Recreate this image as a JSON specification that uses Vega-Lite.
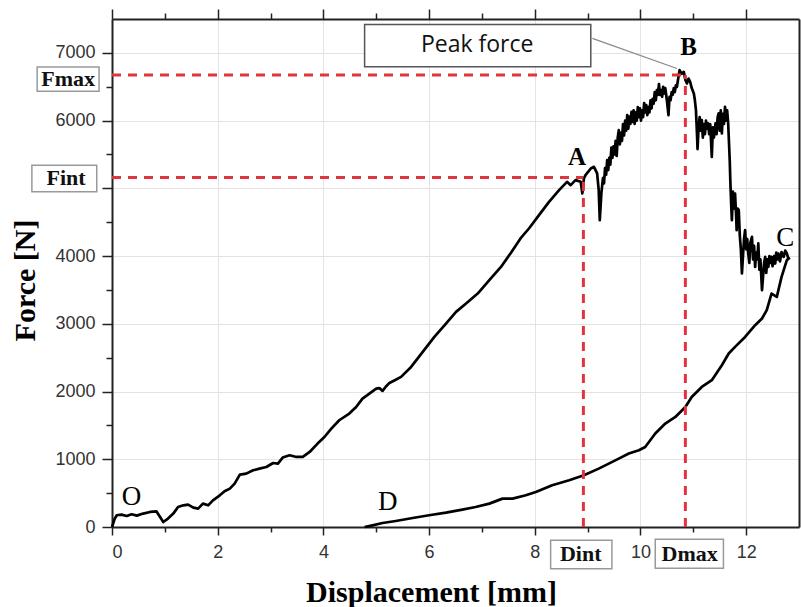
{
 "$schema": "https://vega.github.io/schema/vega-lite/v6.json",
 "width": 687,
 "height": 508,
 "autosize": {"type": "none"},
 "padding": {"left": 112, "top": 19, "right": 2, "bottom": 80},
 "background": "white",
 "config": {
  "view": {"stroke": null},
  "axis": {
   "domainColor": "#222", "domainWidth": 2, "tickColor": "#222", "tickWidth": 1.5,
   "labelFont": "Liberation Sans", "labelFontSize": 18, "labelColor": "#333",
   "gridColor": "#e3e3e3", "gridWidth": 1,
   "titleFont": "Liberation Serif", "titleFontWeight": "bold", "titleFontSize": 30, "titleColor": "#000"
  }
 },
 "datasets": {
  "loading": [
   {"d":0,"f":0},{"d":0.05,"f":120},{"d":0.09,"f":173},{"d":0.18,"f":183},{"d":0.28,"f":163},
   {"d":0.37,"f":188},{"d":0.47,"f":168},{"d":0.59,"f":198},{"d":0.72,"f":222},{"d":0.84,"f":232},
   {"d":0.91,"f":148},{"d":0.97,"f":74},{"d":1.06,"f":124},{"d":1.16,"f":198},{"d":1.25,"f":295},
   {"d":1.35,"f":320},{"d":1.44,"f":330},{"d":1.54,"f":286},{"d":1.63,"f":271},{"d":1.72,"f":345},
   {"d":1.82,"f":320},{"d":1.91,"f":394},{"d":2.04,"f":468},{"d":2.13,"f":527},{"d":2.23,"f":567},
   {"d":2.32,"f":641},{"d":2.42,"f":774},{"d":2.54,"f":788},{"d":2.67,"f":837},{"d":2.79,"f":862},
   {"d":2.92,"f":886},{"d":3.05,"f":945},{"d":3.14,"f":936},{"d":3.23,"f":1025},{"d":3.36,"f":1059},
   {"d":3.49,"f":1034},{"d":3.61,"f":1034},{"d":3.74,"f":1108},{"d":3.89,"f":1232},{"d":4.02,"f":1329},
   {"d":4.15,"f":1453},{"d":4.30,"f":1576},{"d":4.49,"f":1675},{"d":4.62,"f":1772},{"d":4.74,"f":1896},
   {"d":4.87,"f":1970},{"d":5.00,"f":2044},{"d":5.06,"f":2050},{"d":5.12,"f":2010},{"d":5.18,"f":2070},
   {"d":5.25,"f":2127},{"d":5.36,"f":2170},{"d":5.47,"f":2216},{"d":5.66,"f":2363},{"d":5.88,"f":2585},
   {"d":6.10,"f":2806},{"d":6.32,"f":3004},{"d":6.51,"f":3176},{"d":6.70,"f":3300},{"d":6.92,"f":3447},
   {"d":7.14,"f":3644},{"d":7.36,"f":3840},{"d":7.55,"f":4050},{"d":7.73,"f":4260},{"d":7.89,"f":4407},
   {"d":8.08,"f":4604},{"d":8.27,"f":4800},{"d":8.46,"f":4973},{"d":8.61,"f":5096},{"d":8.68,"f":5047},
   {"d":8.77,"f":5121},{"d":8.87,"f":5096},{"d":8.90,"f":4924},{"d":8.93,"f":5146},{"d":8.96,"f":5195},
   {"d":9.06,"f":5293},{"d":9.12,"f":5318},{"d":9.18,"f":5220},{"d":9.21,"f":4973},{"d":9.23,"f":4530},
   {"d":9.26,"f":4924},{"d":9.29,"f":5150},{"d":9.31,"f":5072},{"d":9.33,"f":5300},{"d":9.35,"f":5200},
   {"d":9.37,"f":5416},{"d":9.39,"f":5268},{"d":9.41,"f":5450},{"d":9.43,"f":5350},{"d":9.45,"f":5600},
   {"d":9.47,"f":5450},{"d":9.49,"f":5620},{"d":9.51,"f":5500},{"d":9.53,"f":5700},{"d":9.55,"f":5480},
   {"d":9.57,"f":5750},{"d":9.59,"f":5860},{"d":9.61,"f":5650},{"d":9.63,"f":5820},{"d":9.65,"f":5700},
   {"d":9.67,"f":5950},{"d":9.69,"f":5780},{"d":9.71,"f":6000},{"d":9.73,"f":5850},{"d":9.75,"f":6080},
   {"d":9.77,"f":5880},{"d":9.79,"f":6060},{"d":9.81,"f":5950},{"d":9.83,"f":6130},{"d":9.85,"f":5980},
   {"d":9.87,"f":6150},{"d":9.89,"f":5950},{"d":9.91,"f":6120},{"d":9.93,"f":6000},{"d":9.95,"f":6200},
   {"d":9.97,"f":6050},{"d":9.99,"f":6180},{"d":10.01,"f":6000},{"d":10.03,"f":6150},{"d":10.05,"f":6050},
   {"d":10.07,"f":6260},{"d":10.09,"f":6120},{"d":10.11,"f":6230},{"d":10.13,"f":6080},{"d":10.15,"f":6200},
   {"d":10.17,"f":6120},{"d":10.19,"f":6300},{"d":10.21,"f":6180},{"d":10.23,"f":6320},{"d":10.25,"f":6250},
   {"d":10.27,"f":6420},{"d":10.29,"f":6300},{"d":10.31,"f":6450},{"d":10.33,"f":6380},{"d":10.35,"f":6540},
   {"d":10.37,"f":6380},{"d":10.39,"f":6450},{"d":10.41,"f":6350},{"d":10.43,"f":6500},{"d":10.45,"f":6400},
   {"d":10.47,"f":6480},{"d":10.50,"f":6300},{"d":10.53,"f":6081},{"d":10.55,"f":6350},{"d":10.57,"f":6300},
   {"d":10.59,"f":6420},{"d":10.61,"f":6380},{"d":10.63,"f":6480},{"d":10.65,"f":6420},{"d":10.67,"f":6520},
   {"d":10.69,"f":6499},{"d":10.72,"f":6650},{"d":10.74,"f":6745},{"d":10.78,"f":6690},{"d":10.82,"f":6720},
   {"d":10.85,"f":6600},{"d":10.88,"f":6549},{"d":10.91,"f":6620},{"d":10.94,"f":6573},{"d":10.97,"f":6480},
   {"d":11.01,"f":6401},{"d":11.03,"f":6300},{"d":11.05,"f":6155},{"d":11.07,"f":5800},{"d":11.08,"f":5580},
   {"d":11.10,"f":5900},{"d":11.12,"f":6050},{"d":11.14,"f":5850},{"d":11.16,"f":6007},{"d":11.18,"f":5750},
   {"d":11.20,"f":5950},{"d":11.22,"f":5800},{"d":11.24,"f":6000},{"d":11.26,"f":5880},{"d":11.28,"f":5958},
   {"d":11.30,"f":5800},{"d":11.32,"f":5950},{"d":11.35,"f":5465},{"d":11.37,"f":5900},{"d":11.39,"f":5750},
   {"d":11.42,"f":5960},{"d":11.44,"f":5800},{"d":11.46,"f":6050},{"d":11.48,"f":6106},{"d":11.50,"f":5850},
   {"d":11.52,"f":6150},{"d":11.54,"f":5810},{"d":11.56,"f":6100},{"d":11.58,"f":5950},{"d":11.60,"f":6204},
   {"d":11.62,"f":6000},{"d":11.64,"f":6150},{"d":11.66,"f":5958},{"d":11.69,"f":5400},{"d":11.70,"f":5121},
   {"d":11.72,"f":4700},{"d":11.73,"f":4530},{"d":11.75,"f":4950},{"d":11.77,"f":4700},{"d":11.79,"f":4924},
   {"d":11.81,"f":4600},{"d":11.82,"f":4382},{"d":11.84,"f":4700},{"d":11.86,"f":4678},{"d":11.88,"f":4300},
   {"d":11.90,"f":4100},{"d":11.92,"f":3743},{"d":11.94,"f":4000},{"d":11.96,"f":4250},{"d":11.98,"f":4382},
   {"d":12.00,"f":4100},{"d":12.02,"f":4250},{"d":12.04,"f":4038},{"d":12.06,"f":3900},{"d":12.08,"f":4200},
   {"d":12.11,"f":4283},{"d":12.13,"f":3950},{"d":12.15,"f":4150},{"d":12.17,"f":3840},{"d":12.19,"f":4050},
   {"d":12.21,"f":3950},{"d":12.23,"f":4186},{"d":12.25,"f":3800},{"d":12.27,"f":3950},{"d":12.30,"f":3496},
   {"d":12.32,"f":3700},{"d":12.34,"f":3900},{"d":12.36,"f":3988},{"d":12.38,"f":3750},{"d":12.40,"f":3950},
   {"d":12.42,"f":3840},{"d":12.44,"f":4000},{"d":12.46,"f":3900},{"d":12.48,"f":3988},{"d":12.50,"f":3850},
   {"d":12.53,"f":4000},{"d":12.55,"f":3890},{"d":12.57,"f":4050},{"d":12.59,"f":3950},{"d":12.61,"f":4038},
   {"d":12.64,"f":3920},{"d":12.67,"f":4060},{"d":12.71,"f":3988},{"d":12.74,"f":4080},{"d":12.77,"f":4038},
   {"d":12.80,"f":3960},{"d":12.82,"f":3980}
  ],
  "unloading": [
   {"d":12.82,"f":3980},{"d":12.77,"f":3939},{"d":12.67,"f":3693},{"d":12.58,"f":3397},{"d":12.48,"f":3447},
   {"d":12.39,"f":3201},{"d":12.30,"f":3078},{"d":12.17,"f":2979},{"d":11.98,"f":2806},{"d":11.79,"f":2659},
   {"d":11.67,"f":2561},{"d":11.54,"f":2388},{"d":11.35,"f":2167},{"d":11.16,"f":2068},{"d":10.97,"f":1920},
   {"d":10.85,"f":1772},{"d":10.66,"f":1625},{"d":10.47,"f":1527},{"d":10.28,"f":1380},{"d":10.09,"f":1182},
   {"d":9.97,"f":1133},{"d":9.78,"f":1084},{"d":9.59,"f":1010},{"d":9.40,"f":936},{"d":9.21,"f":862},
   {"d":8.93,"f":763},{"d":8.65,"f":690},{"d":8.33,"f":616},{"d":8.02,"f":517},{"d":7.83,"f":468},
   {"d":7.58,"f":419},{"d":7.39,"f":419},{"d":7.14,"f":345},{"d":6.88,"f":295},{"d":6.63,"f":257},
   {"d":6.32,"f":212},{"d":6.00,"f":173},{"d":5.69,"f":133},{"d":5.37,"f":89},{"d":5.12,"f":59},
   {"d":4.93,"f":25},{"d":4.78,"f":0}
  ],
  "guides": [
   {"x1":0,"x2":10.85,"y1":6672,"y2":6672},
   {"x1":10.85,"x2":10.85,"y1":0,"y2":6672},
   {"x1":0,"x2":8.92,"y1":5161,"y2":5161},
   {"x1":8.92,"x2":8.92,"y1":0,"y2":5161}
  ],
  "peakbox": [{"x1":4.78,"x2":9.06,"y1":6794,"y2":7420}],
  "peaktext": [{"x":6.91,"y":7115,"label":"Peak force"}],
  "peakline": [{"x1":9.09,"x2":10.69,"y1":7214,"y2":6770}],
  "boxes": [
   {"x1":-1.416,"x2":-0.245,"y1":6435,"y2":6790},
   {"x1":-1.516,"x2":-0.289,"y1":4948,"y2":5342},
   {"x1":8.30,"x2":9.46,"y1":-196,"y2":-615},
   {"x1":10.28,"x2":11.57,"y1":-182,"y2":-610}
  ],
  "boxlabels": [
   {"x":-0.83,"y":6613,"label":"Fmax"},
   {"x":-0.87,"y":5146,"label":"Fint"},
   {"x":8.87,"y":-406,"label":"Dint"},
   {"x":10.93,"y":-406,"label":"Dmax"}
  ],
  "boldpoints": [
   {"x":8.80,"y":5465,"label":"A"},
   {"x":10.91,"y":7090,"label":"B"}
  ],
  "points": [
   {"x":0.37,"y":443,"label":"O"},
   {"x":12.74,"y":4261,"label":"C"},
   {"x":5.22,"y":369,"label":"D"}
  ]
 },
 "resolve": {"axis": {"x": "independent", "y": "independent"}},
 "layer": [
  {
   "data": {"name": "loading"},
   "mark": {"type": "line", "color": "#000", "strokeWidth": 2.7, "strokeJoin": "round"},
   "encoding": {
    "x": {"field": "d", "type": "quantitative",
     "scale": {"domain": [0, 13], "nice": false, "zero": false},
     "axis": {"orient": "bottom", "values": [0,2,4,6,8,10,12], "grid": true, "tickSize": 8, "labelPadding": 8,
      "title": "Displacement [mm]", "titleX": 319, "titleY": 74, "titleBaseline": "alphabetic", "titleAlign": "center"}},
    "y": {"field": "f", "type": "quantitative",
     "scale": {"domain": [0, 7500], "nice": false},
     "axis": {"orient": "left", "values": [0,1000,2000,3000,4000,5000,6000,7000], "grid": true, "tickSize": 10, "labelPadding": 7,
      "labelExpr": "datum.value == 5000 ? '' : format(datum.value, 'd')",
      "title": "Force [N]", "titleX": -87, "titleY": 261, "titleBaseline": "middle", "titleAlign": "center", "titleAngle": 270}}
   }
  },
  {
   "data": {"name": "unloading"},
   "mark": {"type": "line", "color": "#000", "strokeWidth": 2.7, "strokeJoin": "round"},
   "encoding": {
    "x": {"field": "d", "type": "quantitative", "axis": null},
    "y": {"field": "f", "type": "quantitative", "axis": null}
   }
  },
  {
   "data": {"name": "guides"},
   "mark": {"type": "rule", "color": "#e0363b", "strokeWidth": 3, "strokeDash": [9, 7]},
   "encoding": {
    "x": {"field": "x1", "type": "quantitative",
     "axis": {"orient": "bottom", "values": [1,3,5,7,9,11], "tickSize": 5, "labels": false, "grid": false, "domain": false, "title": null}},
    "x2": {"field": "x2"},
    "y": {"field": "y1", "type": "quantitative",
     "axis": {"orient": "left", "values": [500,1500,2500,3500,4500,5500,6500], "tickSize": 6, "labels": false, "grid": false, "domain": false, "title": null}},
    "y2": {"field": "y2"}
   }
  },
  {
   "data": {"name": "peakbox"},
   "mark": {"type": "rect", "fill": "white", "stroke": "#555", "strokeWidth": 1.5},
   "encoding": {
    "x": {"field": "x1", "type": "quantitative",
     "axis": {"orient": "top", "values": [0,2,4,6,8,10,12], "tickSize": 10, "labels": false, "grid": false, "title": null}},
    "x2": {"field": "x2"},
    "y": {"field": "y1", "type": "quantitative",
     "axis": {"orient": "right", "values": [], "ticks": false, "labels": false, "grid": false, "title": null}},
    "y2": {"field": "y2"}
   }
  },
  {
   "data": {"name": "peaktext"},
   "mark": {"type": "text", "font": "Open Sans", "fontSize": 23, "color": "#111", "baseline": "middle", "align": "center"},
   "encoding": {
    "x": {"field": "x", "type": "quantitative",
     "axis": {"orient": "top", "values": [1,3,5,7,9,11], "tickSize": 6, "labels": false, "grid": false, "domain": false, "title": null}},
    "y": {"field": "y", "type": "quantitative", "axis": null},
    "text": {"field": "label"}
   }
  },
  {
   "data": {"name": "peakline"},
   "mark": {"type": "rule", "color": "#888", "strokeWidth": 1.2},
   "encoding": {
    "x": {"field": "x1", "type": "quantitative", "axis": null},
    "x2": {"field": "x2"},
    "y": {"field": "y1", "type": "quantitative", "axis": null},
    "y2": {"field": "y2"}
   }
  },
  {
   "data": {"name": "boxes"},
   "mark": {"type": "rect", "fill": "white", "stroke": "#999", "strokeWidth": 1.5},
   "encoding": {
    "x": {"field": "x1", "type": "quantitative", "axis": null},
    "x2": {"field": "x2"},
    "y": {"field": "y1", "type": "quantitative", "axis": null},
    "y2": {"field": "y2"}
   }
  },
  {
   "data": {"name": "boxlabels"},
   "mark": {"type": "text", "font": "Liberation Serif", "fontWeight": "bold", "fontSize": 22, "color": "#111", "baseline": "middle", "align": "center"},
   "encoding": {
    "x": {"field": "x", "type": "quantitative", "axis": null},
    "y": {"field": "y", "type": "quantitative", "axis": null},
    "text": {"field": "label"}
   }
  },
  {
   "data": {"name": "boldpoints"},
   "mark": {"type": "text", "font": "Liberation Serif", "fontWeight": "bold", "fontSize": 25, "color": "#000", "baseline": "middle", "align": "center"},
   "encoding": {
    "x": {"field": "x", "type": "quantitative", "axis": null},
    "y": {"field": "y", "type": "quantitative", "axis": null},
    "text": {"field": "label"}
   }
  },
  {
   "data": {"name": "points"},
   "mark": {"type": "text", "font": "Liberation Serif", "fontSize": 27, "color": "#000", "baseline": "middle", "align": "center"},
   "encoding": {
    "x": {"field": "x", "type": "quantitative", "axis": null},
    "y": {"field": "y", "type": "quantitative", "axis": null},
    "text": {"field": "label"}
   }
  }
 ]
}
